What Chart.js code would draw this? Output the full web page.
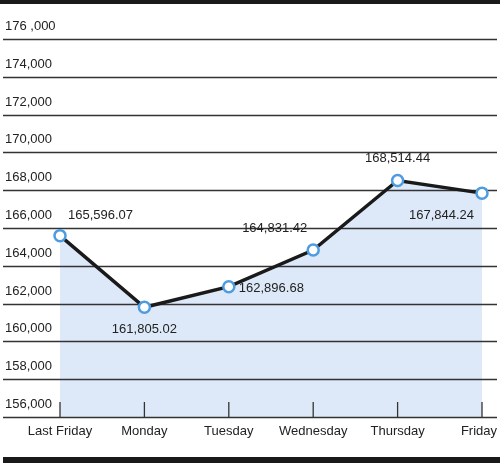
<!DOCTYPE html>
<html>
<head>
<script src="https://cdn.jsdelivr.net/npm/chart.js@4"></script>
<style>
    body { margin: 0; background: #fff; }
    #wrap { width: 500px; height: 463px; position: relative; }
</style>
</head>
<body>
<div id="wrap"><canvas id="c"></canvas></div>
<script>
var days = ['Last Friday', 'Monday', 'Tuesday', 'Wednesday', 'Thursday', 'Friday'];
var values = [165596.07, 161805.02, 162896.68, 164831.42, 168514.44, 167844.24];
var valueLabels = ['165,596.07', '161,805.02', '162,896.68', '164,831.42', '168,514.44', '167,844.24'];
var yTicks = [156000, 158000, 160000, 162000, 164000, 166000, 168000, 170000, 172000, 174000, 176000];
var yTickLabels = ['156,000', '158,000', '160,000', '162,000', '164,000', '166,000', '168,000', '170,000', '172,000', '174,000', '176 ,000'];

// label placement per point: [dx, dy, align]
var labelPos = [[8, -20, 'left'], [0, 22, 'center'], [10, 2, 'left'], [-6, -22, 'right'], [0, -22, 'center'], [-8, 22, 'right']];

var FONT = '13px "Liberation Sans Narrow", "Liberation Sans", Arial, sans-serif';

var decor = {
    id: 'decor',
    beforeDraw: function(chart) {
        var ctx = chart.ctx;
        ctx.save();
        ctx.fillStyle = '#1a1a1a';
        ctx.fillRect(0, 0, 500, 4);
        ctx.fillRect(3, 457, 497, 6);
        ctx.restore();
    },
    // runs after the filler (drawTime beforeDatasetsDraw) so lines sit over the fill
    beforeDatasetsDraw: function(chart) {
        var ctx = chart.ctx, y = chart.scales.y, x = chart.scales.x;
        ctx.save();
        ctx.strokeStyle = '#333';
        ctx.lineWidth = 1.3;
        ctx.font = FONT;
        ctx.fillStyle = '#222';
        ctx.textAlign = 'left';
        ctx.textBaseline = 'bottom';
        yTicks.forEach(function(v, i) {
            var py = Math.round(y.getPixelForValue(v)) + 0.5;
            ctx.beginPath();
            ctx.moveTo(3, py);
            ctx.lineTo(497, py);
            ctx.stroke();
            ctx.fillText(yTickLabels[i], 5, py - 7);
        });
        var by = y.getPixelForValue(156000);
        ctx.textAlign = 'center';
        ctx.textBaseline = 'top';
        days.forEach(function(d, i) {
            var px = x.getPixelForValue(i);
            ctx.beginPath();
            ctx.moveTo(px, by);
            ctx.lineTo(px, by - 15);
            ctx.stroke();
            var tx = px;
            if (i === days.length - 1) tx = Math.min(px, 497 - ctx.measureText(d).width / 2);
            ctx.fillText(d, tx, by + 8);
        });
        ctx.restore();
    },
    afterDatasetsDraw: function(chart) {
        var ctx = chart.ctx, meta = chart.getDatasetMeta(0);
        ctx.save();
        ctx.font = FONT;
        ctx.fillStyle = '#222';
        ctx.textBaseline = 'middle';
        meta.data.forEach(function(pt, i) {
            var p = labelPos[i];
            ctx.textAlign = p[2];
            ctx.fillText(valueLabels[i], pt.x + p[0], pt.y + p[1]);
        });
        ctx.restore();
    }
};

new Chart(document.getElementById('c'), {
    type: 'line',
    data: {
        labels: days,
        datasets: [{
            data: values,
            borderColor: '#1a1a1a',
            borderWidth: 3.5,
            fill: 'start',
            backgroundColor: '#dde9f8',
            pointRadius: 5.5,
            pointBackgroundColor: '#fff',
            pointBorderColor: '#4d9be0',
            pointBorderWidth: 2.5,
            tension: 0
        }]
    },
    options: {
        responsive: true,
        maintainAspectRatio: false,
        animation: false,
        layout: { padding: { left: 60, right: 18, top: 39, bottom: 46 } },
        scales: {
            x: { display: false, offset: false },
            y: { display: false, min: 156000, max: 176000 }
        },
        plugins: {
            legend: { display: false },
            tooltip: { enabled: false },
            filler: { drawTime: 'beforeDatasetsDraw' }
        }
    },
    plugins: [decor]
});
</script>
</body>
</html>
